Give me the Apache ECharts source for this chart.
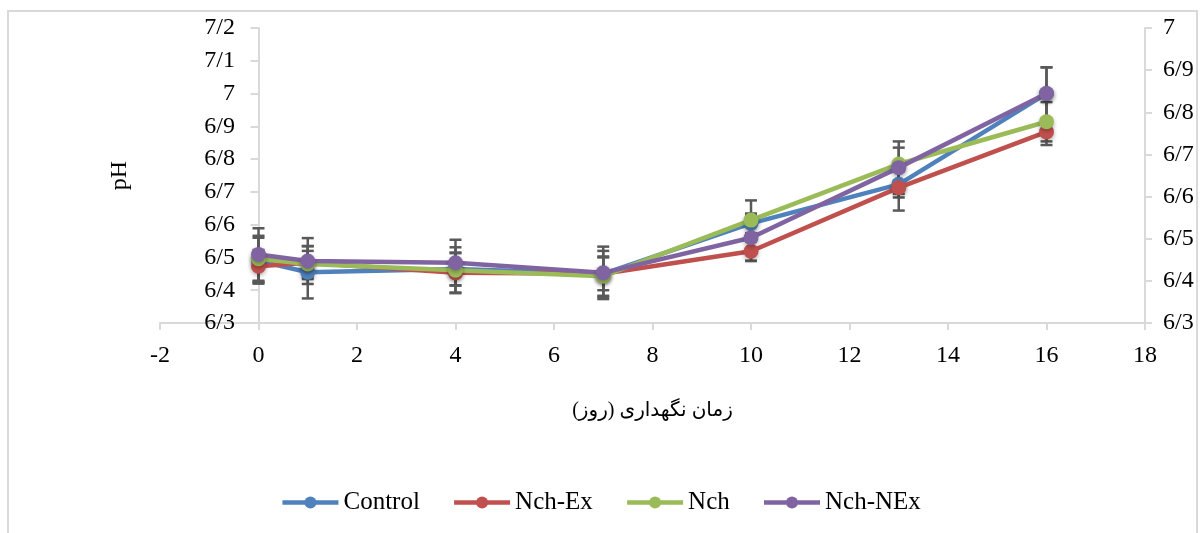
<!DOCTYPE html>
<html>
<head>
<meta charset="utf-8">
<script src="https://cdn.jsdelivr.net/npm/echarts@6/dist/echarts.min.js"></script>
<style>
  html, body { margin: 0; padding: 0; background: #fff; }
  #chart { width: 1201px; height: 533px; }
</style>
</head>
<body>
<div id="chart"></div>
<script>
// storage days
const days = [0, 1, 4, 7, 10, 13, 16]

const seriesNames = ['Control', 'Nch-Ex', 'Nch', 'Nch-NEx']
const colors = ['#4f81bd', '#c0504d', '#9bbb59', '#8064a2']

const control = [6.49, 6.455, 6.465, 6.45, 6.604, 6.723, 7.0]
const nchEx = [6.473, 6.484, 6.453, 6.45, 6.519, 6.713, 6.883]
const nch = [6.496, 6.48, 6.461, 6.443, 6.614, 6.785, 6.914]
const nchNEx = [6.509, 6.489, 6.484, 6.453, 6.56, 6.774, 7.0]

// error bar half-widths
const controlErr = [0.07, 0.08, 0.05, 0.07, 0.03, 0.04, 0.08]
const nchExErr = [0.05, 0.05, 0.06, 0.05, 0.03, 0.07, 0.04]
const nchErr = [0.07, 0.04, 0.07, 0.06, 0.06, 0.05, 0.06]
const nchNExErr = [0.08, 0.07, 0.07, 0.08, 0.07, 0.08, 0.08]

const values = [control, nchEx, nch, nchNEx]
const errors = [controlErr, nchExErr, nchErr, nchNExErr]

const font = '"Liberation Serif", "DejaVu Sans", serif'
const fmt = v => {
  let s = (Math.round(v * 10) / 10).toFixed(1)
  if (s.endsWith('.0')) s = s.slice(0, -2)
  return s.replace('.', '/')
}

const chart = echarts.init(document.getElementById('chart'))

const errData = []
values.forEach((vals, i) => {
  vals.forEach((v, j) => errData.push([days[j], v, errors[i][j]]))
})

const lineSeries = seriesNames.map((name, i) => ({
  name: name,
  type: 'line',
  yAxisIndex: 0,
  data: days.map((d, j) => [d, values[i][j]]),
  symbol: 'circle',
  symbolSize: 15,
  lineStyle: { color: colors[i], width: 4.5 },
  itemStyle: { color: colors[i], shadowBlur: 4, shadowColor: 'rgba(0,0,0,0.3)', shadowOffsetY: 2 },
  emphasis: { disabled: true },
  z: 3 + i
}))

const option = {
  animation: false,
  backgroundColor: '#fff',
  textStyle: { fontFamily: font },
  graphic: [{
    type: 'rect',
    shape: { x: 8, y: 11, width: 1189, height: 540 },
    style: { fill: 'none', stroke: '#d9d9d9', lineWidth: 2 },
    silent: true
  }],
  legend: {
    bottom: 13,
    left: 'center',
    data: seriesNames,
    itemWidth: 56,
    itemHeight: 15,
    itemGap: 32,
    lineStyle: { width: 4.5 },
    itemStyle: { shadowBlur: 0 },
    textStyle: { fontFamily: font, fontSize: 25, color: '#000' }
  },
  grid: { left: 160, right: 56, top: 28, bottom: 210 },
  xAxis: {
    type: 'value',
    min: -2,
    max: 18,
    interval: 2,
    name: 'زمان نگهداری (روز)',
    nameLocation: 'middle',
    nameGap: 78,
    nameTextStyle: { fontFamily: font, fontSize: 20, color: '#000' },
    axisLine: { show: true, onZero: false, lineStyle: { color: '#d9d9d9', width: 2 } },
    axisTick: { show: true, length: 7, lineStyle: { color: '#d9d9d9', width: 2 } },
    axisLabel: { fontFamily: font, fontSize: 24, color: '#000', margin: 21 },
    splitLine: { show: false }
  },
  yAxis: [{
    type: 'value',
    position: 'left',
    min: 6.3,
    max: 7.2,
    interval: 0.1,
    name: 'pH',
    nameLocation: 'middle',
    nameGap: 28,
    nameRotate: 90,
    nameTextStyle: { fontFamily: font, fontSize: 24, color: '#000' },
    axisLine: { show: true, onZero: true, lineStyle: { color: '#d9d9d9', width: 2 } },
    axisTick: { show: true, length: 8, lineStyle: { color: '#d9d9d9', width: 2 } },
    axisLabel: { fontFamily: font, fontSize: 24, color: '#000', margin: -75, formatter: fmt },
    splitLine: { show: false }
  }, {
    type: 'value',
    position: 'right',
    min: 6.3,
    max: 7.0,
    interval: 0.1,
    axisLine: { show: true, onZero: false, lineStyle: { color: '#d9d9d9', width: 2 } },
    axisTick: { show: true, length: 7, lineStyle: { color: '#d9d9d9', width: 2 } },
    axisLabel: { fontFamily: font, fontSize: 24, color: '#000', margin: 18, formatter: fmt },
    splitLine: { show: false }
  }],
  series: [{
    type: 'custom',
    name: 'err',
    yAxisIndex: 0,
    data: errData,
    z: 2,
    silent: true,
    renderItem: (params, api) => {
      const x = api.value(0)
      const y = api.value(1)
      const e = api.value(2)
      const top = api.coord([x, y + e])
      const bot = api.coord([x, y - e])
      const w = 6
      const style = { stroke: '#595959', lineWidth: 2.5 }
      return {
        type: 'group',
        children: [
          { type: 'line', shape: { x1: top[0], y1: top[1], x2: bot[0], y2: bot[1] }, style },
          { type: 'line', shape: { x1: top[0] - w, y1: top[1], x2: top[0] + w, y2: top[1] }, style },
          { type: 'line', shape: { x1: bot[0] - w, y1: bot[1], x2: bot[0] + w, y2: bot[1] }, style }
        ]
      }
    }
  }].concat(lineSeries)
}

chart.setOption(option)
window.addEventListener('resize', () => chart.resize())
</script>
</body>
</html>
